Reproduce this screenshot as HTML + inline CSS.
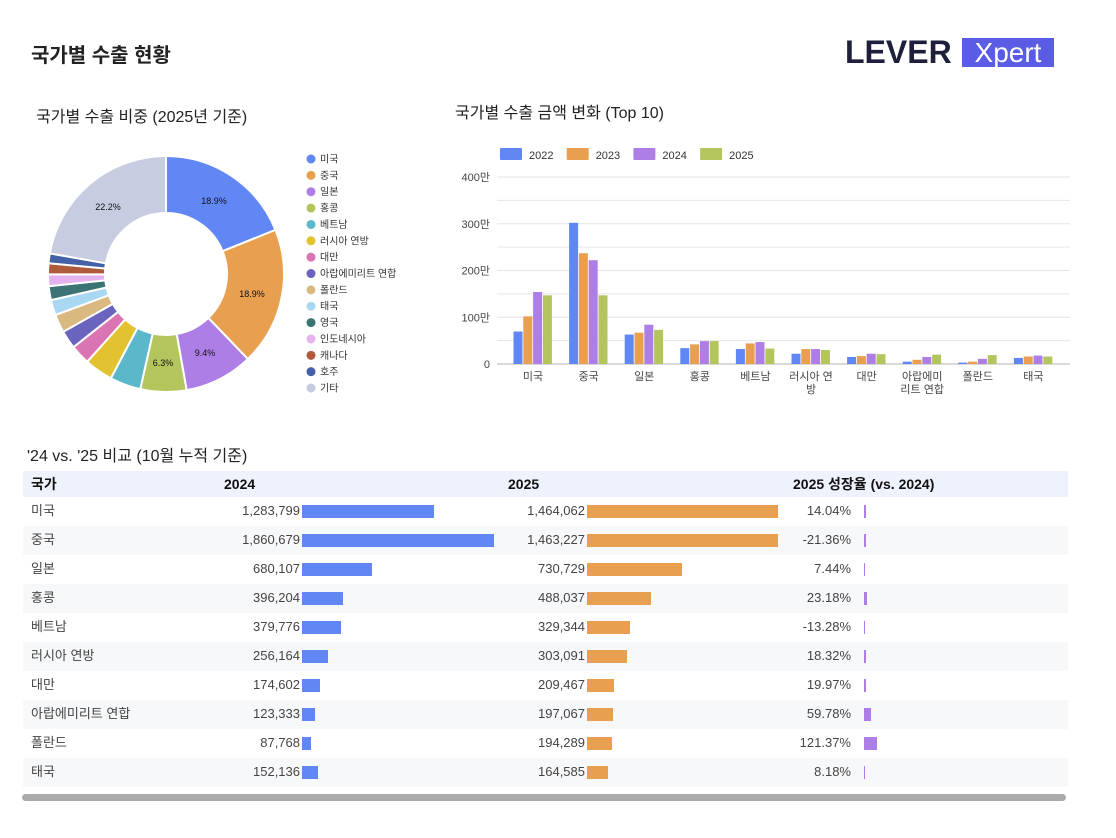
<!DOCTYPE html>
<html><head><meta charset="utf-8">
<style>
body{margin:0;width:1116px;height:838px;background:#fff;font-family:"Liberation Sans","Noto Sans CJK KR",sans-serif;position:relative;overflow:hidden;color:#222}
.abs{position:absolute;white-space:nowrap}
.row{position:absolute;left:23px;width:1045px;height:29px;font-size:13px;color:#444}
.row span{position:absolute;top:0;line-height:28px;height:29px}
.bar{position:absolute;top:8px;height:13px}
.hd span{position:absolute;top:0;line-height:26px}
</style></head><body>
<div class="abs" style="left:31px;top:43px;font-size:20px;line-height:26px;font-weight:bold;color:#222">국가별 수출 현황</div>
<div class="abs" style="left:845px;top:34px;font-size:32px;font-weight:900;color:#1e1f3a;font-family:'Liberation Sans',sans-serif">LEVER</div>
<div class="abs" style="left:962px;top:38px;width:92px;height:29px;background:#5a5ce6;color:#fff;font-size:28px;line-height:29px;text-align:center;font-family:'Liberation Sans',sans-serif">Xpert</div>
<div class="abs" style="left:36px;top:106px;font-size:16px;line-height:24px;color:#222">국가별 수출 비중 (2025년 기준)</div>
<div class="abs" style="left:455px;top:102px;font-size:16px;line-height:24px;color:#222">국가별 수출 금액 변화 (Top 10)</div>
<div class="abs" style="left:27px;top:445px;font-size:16px;line-height:24px;color:#222">'24 vs. '25 비교 (10월 누적 기준)</div>
<svg id="s" class="abs" style="left:0;top:0" width="1116" height="440"></svg>
<div class="abs hd" style="left:23px;top:471px;width:1045px;height:26px;background:#eef2fc;font-size:14px;font-weight:bold;color:#111">
<span style="left:8px">국가</span>
<span style="left:201px">2024</span>
<span style="left:485px">2025</span>
<span style="left:770px">2025 성장율 (vs. 2024)</span>
</div>
<div id="rows"></div>
<div class="abs" style="left:22px;top:794px;width:1044px;height:7px;background:#aaa;border-radius:4px"></div>
<script>
const NS="http://www.w3.org/2000/svg",s=document.getElementById('s');
function el(t,a,txt){const e=document.createElementNS(NS,t);for(const k in a)e.setAttribute(k,a[k]);if(txt!=null)e.textContent=txt;s.appendChild(e);return e;}
const names=["미국","중국","일본","홍콩","베트남","러시아 연방","대만","아랍에미리트 연합","폴란드","태국","영국","인도네시아","캐나다","호주","기타"];
const cols=["#6187f5","#e8a050","#ad7fe6","#b5c55e","#5bb8cb","#e3c230","#da74b3","#6b64be","#d9b97f","#a9d8f2","#3c7475","#e5b3f0","#b05a3c","#4461a8","#c8cce0"];
const pc=[18.9,18.9,9.4,6.3,4.25,3.9,2.7,2.5,2.5,2.1,1.9,1.6,1.5,1.35,22.2];
const tot=pc.reduce((a,b)=>a+b,0);
const cx=166,cy=274,R=118,r=61;let a0=-Math.PI/2;
function p(a,rr){return [cx+rr*Math.cos(a),cy+rr*Math.sin(a)];}
pc.forEach((v,i)=>{const a1=a0+v/tot*2*Math.PI;const L=(a1-a0)>Math.PI?1:0;
const [x1,y1]=p(a0,R),[x2,y2]=p(a1,R),[x3,y3]=p(a1,r),[x4,y4]=p(a0,r);
el('path',{d:`M${x1},${y1}A${R},${R} 0 ${L} 1 ${x2},${y2}L${x3},${y3}A${r},${r} 0 ${L} 0 ${x4},${y4}Z`,fill:cols[i],stroke:'#fff','stroke-width':2});a0=a1;});
[[214,204,"18.9%"],[252,297,"18.9%"],[205,356,"9.4%"],[163,366,"6.3%"],[108,210,"22.2%"]].forEach(l=>el('text',{x:l[0],y:l[1],'font-size':9,'text-anchor':'middle',fill:'#111'},l[2]));
names.forEach((n,i)=>{const y=159+i*16.36;el('circle',{cx:311,cy:y,r:4.5,fill:cols[i]});el('text',{x:320,y:y+3.5,'font-size':10,fill:'#333'},n);});
const y0=364,k=0.4675;
for(let g=0;g<=8;g++){const y=y0-g*50*k;el('line',{x1:497,x2:1070,y1:y,y2:y,stroke:g==0?'#ccc':'#e6e6e6','stroke-width':g==0?1.5:1});}
[0,100,200,300,400].forEach(v=>el('text',{x:490,y:y0-v*k+4,'font-size':11,'text-anchor':'end',fill:'#444'},v?v+"만":"0"));
const bc=["#6187f5","#e8a050","#ad7fe6","#b5c55e"];
["2022","2023","2024","2025"].forEach((t,i)=>{const x=500+i*66.7;el('rect',{x:x,y:148,width:22,height:12,fill:bc[i],rx:1});el('text',{x:x+29,y:159,'font-size':11,fill:'#333'},t);});
const d=[[69.5,102,154,147],[302,237,222,147],[63,67,84,73],[34,42,49,49],[32,44,47,33],[22,32,32,30],[15,17,22,21],[5,9,15,20],[3,5,11,19],[13,16,18,16]];
const xl=[["미국"],["중국"],["일본"],["홍콩"],["베트남"],["러시아 연","방"],["대만"],["아랍에미","리트 연합"],["폴란드"],["태국"]];
d.forEach((vs,c)=>{const cxx=533+c*55.6;vs.forEach((v,j)=>{el('rect',{x:cxx-19.5+j*9.8,y:y0-v*k,width:9,height:v*k,fill:bc[j]});});
xl[c].forEach((t,m)=>el('text',{x:cxx,y:380+m*13,'font-size':11,'text-anchor':'middle',fill:'#444'},t));});
const T=[["미국","1,283,799",1283799,"1,464,062",1464062,"14.04%",14.04],["중국","1,860,679",1860679,"1,463,227",1463227,"-21.36%",-21.36],["일본","680,107",680107,"730,729",730729,"7.44%",7.44],["홍콩","396,204",396204,"488,037",488037,"23.18%",23.18],["베트남","379,776",379776,"329,344",329344,"-13.28%",-13.28],["러시아 연방","256,164",256164,"303,091",303091,"18.32%",18.32],["대만","174,602",174602,"209,467",209467,"19.97%",19.97],["아랍에미리트 연합","123,333",123333,"197,067",197067,"59.78%",59.78],["폴란드","87,768",87768,"194,289",194289,"121.37%",121.37],["태국","152,136",152136,"164,585",164585,"8.18%",8.18]];
let h="";T.forEach((t,i)=>{const top=497+i*29;
h+=`<div class="row" style="top:${top}px;background:${i%2?'#f7f8fa':'#fff'}">
<span style="left:8px">${t[0]}</span>
<span style="right:${1045-277}px">${t[1]}</span><div class="bar" style="left:279px;width:${t[2]/1860679*192}px;background:#6187f5"></div>
<span style="right:${1045-562}px">${t[3]}</span><div class="bar" style="left:564px;width:${t[4]/1464062*191}px;background:#e8a050"></div>
<span style="right:${1045-828}px">${t[5]}</span><div class="bar" style="left:841px;width:${Math.max(1,Math.abs(t[6])*0.11)}px;background:#ad7fe6"></div></div>`;});
document.getElementById('rows').innerHTML=h;
</script>
</body></html>
